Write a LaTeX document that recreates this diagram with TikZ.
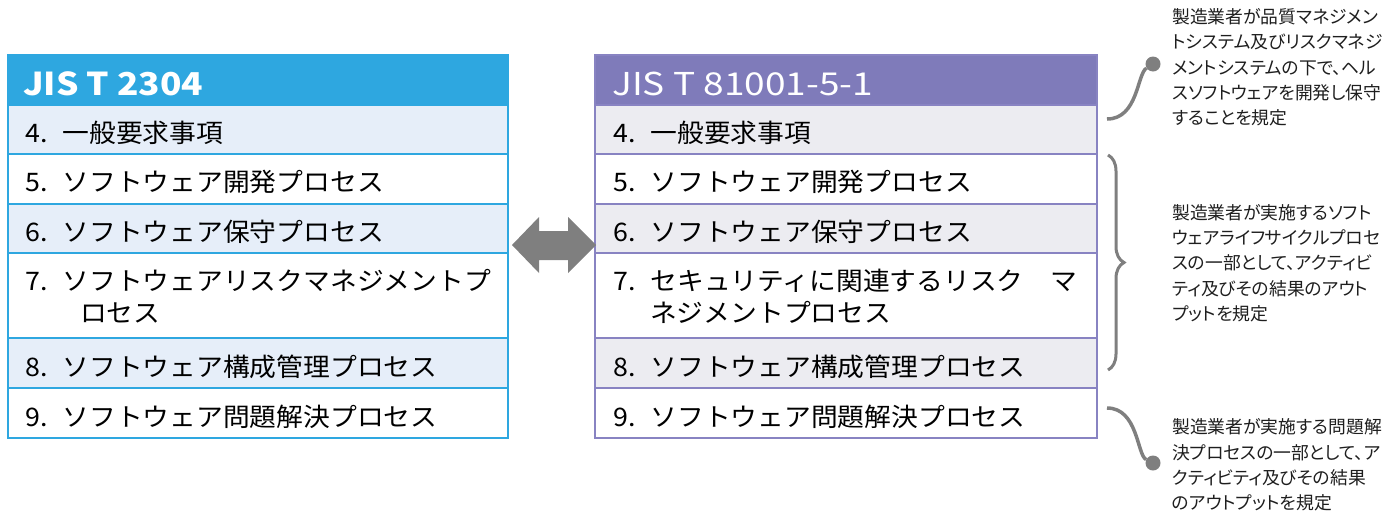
\documentclass[tikz,border=0pt]{standalone}
\usepackage{fontspec}
\setmainfont{Noto Sans CJK JP}
\newfontfamily\rowfamily{Noto Sans CJK JP}[FakeStretch=1.05]
\newfontfamily\hdrfamily{Noto Sans CJK JP}[FakeStretch=1.175]
\newfontfamily\hdrbfamily{Noto Sans CJK JP}[FakeStretch=1.12]
\newfontfamily\notefamily{Noto Sans CJK JP}[RawFeature=+palt]
\usetikzlibrary{decorations.pathreplacing}
\definecolor{lblue}{HTML}{2EA7E0}
\definecolor{llight}{HTML}{E6EEF9}
\definecolor{rpurple}{HTML}{8883C2}
\definecolor{rhead}{HTML}{7F7BBA}
\definecolor{rlight}{HTML}{ECECF1}
\definecolor{agray}{HTML}{7F7F7F}
\definecolor{notegray}{HTML}{1E1E1E}
\newcommand{\itm}[1]{#1.\hspace{15pt}}
\begin{document}
\begin{tikzpicture}[x=1pt,y=-1pt,
 lbox/.style={draw=lblue, line width=2pt, minimum width=500pt, inner sep=0pt},
 rbox/.style={draw=rpurple, line width=2pt, minimum width=502pt, inner sep=0pt},
 rowtext/.style={anchor=base west, inner sep=0pt, font=\rowfamily\fontsize{25.5}{31}\selectfont, text=black},
 hdrtext/.style={anchor=base west, inner sep=0pt, text=white},
 note/.style={anchor=west, align=left, inner sep=0pt, font=\notefamily\fontsize{17.8}{25.3}\selectfont, text=notegray},
 gline/.style={draw=agray, line width=3.5pt},
 dot/.style={circle, fill=agray, minimum size=15pt, inner sep=0pt}]
\useasboundingbox (0,0) rectangle (1393,512);
% left table
\node[lbox, fill=lblue, minimum height=50pt] (lh) at (258,80) {};
\node[lbox, fill=llight, minimum height=49pt] (l4) at (258,129.5) {};
\node[lbox, fill=white, minimum height=50pt] (l5) at (258,179) {};
\node[lbox, fill=llight, minimum height=49pt] (l6) at (258,228.5) {};
\node[lbox, fill=white, minimum height=85pt] (l7) at (258,295.5) {};
\node[lbox, fill=llight, minimum height=50pt] (l8) at (258,363) {};
\node[lbox, fill=white, minimum height=50pt] (l9) at (258,413) {};
\node[hdrtext, font=\hdrbfamily\bfseries\fontsize{31.5}{36}\selectfont] (lht) at (23,95) {JIS T 2304};
\node[rowtext] (l4t) at (25,142) {\itm{4}一般要求事項};
\node[rowtext] (l5t) at (25,191.5) {\itm{5}ソフトウェア開発プロセス};
\node[rowtext] (l6t) at (25,241) {\itm{6}ソフトウェア保守プロセス};
\node[rowtext] (l7t) at (25,290) {\itm{7}ソフトウェアリスクマネジメントプ};
\node[rowtext] (l7u) at (80,322) {ロセス};
\node[rowtext] (l8t) at (25,376) {\itm{8}ソフトウェア構成管理プロセス};
\node[rowtext] (l9t) at (25,426) {\itm{9}ソフトウェア問題解決プロセス};
% right table
\node[rbox, fill=rhead, minimum height=50pt] (rh) at (846,80) {};
\node[rbox, fill=rlight, minimum height=49pt] (r4) at (846,129.5) {};
\node[rbox, fill=white, minimum height=50pt] (r5) at (846,179) {};
\node[rbox, fill=rlight, minimum height=49pt] (r6) at (846,228.5) {};
\node[rbox, fill=white, minimum height=85pt] (r7) at (846,295.5) {};
\node[rbox, fill=rlight, minimum height=50pt] (r8) at (846,363) {};
\node[rbox, fill=white, minimum height=50pt] (r9) at (846,413) {};
\node[hdrtext, font=\hdrfamily\fontsize{31.5}{36}\selectfont] (rht) at (612,95) {JIS T 81001-5-1};
\node[rowtext] (r4t) at (613,142) {\itm{4}一般要求事項};
\node[rowtext] (r5t) at (613,191.5) {\itm{5}ソフトウェア開発プロセス};
\node[rowtext] (r6t) at (613,241) {\itm{6}ソフトウェア保守プロセス};
\node[rowtext] (r7t) at (613,290) {\itm{7}セキュリティに関連するリスク　マ};
\node[rowtext] (r7u) at (650,322) {ネジメントプロセス};
\node[rowtext] (r8t) at (613,376) {\itm{8}ソフトウェア構成管理プロセス};
\node[rowtext] (r9t) at (613,426) {\itm{9}ソフトウェア問題解決プロセス};
% double arrow
\fill[agray] (512,245) -- (539,217) -- (539,231) -- (568,231) -- (568,217) -- (596,245) -- (568,273) -- (568,260) -- (539,260) -- (539,273) -- cycle;
% notes
\node[note] (n1) at (1172,67.5) {製造業者が品質マネジメン\\トシステム及びリスクマネジ\\メントシステムの下で、ヘル\\スソフトウェアを開発し保守\\することを規定};
\node[note] (n2) at (1172,263) {製造業者が実施するソフト\\ウェアライフサイクルプロセ\\スの一部として、アクティビ\\ティ及びその結果のアウト\\プットを規定};
\node[note] (n3) at (1172,465) {製造業者が実施する問題解\\決プロセスの一部として、ア\\クティビティ及びその結果\\のアウトプットを規定};
% connectors
\node[dot] (d1) at (1153,64) {};
\node[dot] (d3) at (1153,463) {};
\coordinate (c1) at (1107,119);
\coordinate (c3) at (1107,408);
\draw[gline] (c1) .. controls (1138,119) and (1137,74) .. (d1);
\draw[gline] (c3) .. controls (1138,408) and (1137,455) .. (d3);
\coordinate (bt) at (1108,155);
\coordinate (bb) at (1108,370);
\draw[gline, line width=3pt, decorate, decoration={brace, amplitude=16pt}] (bt) -- (bb);
\end{tikzpicture}
\end{document}
